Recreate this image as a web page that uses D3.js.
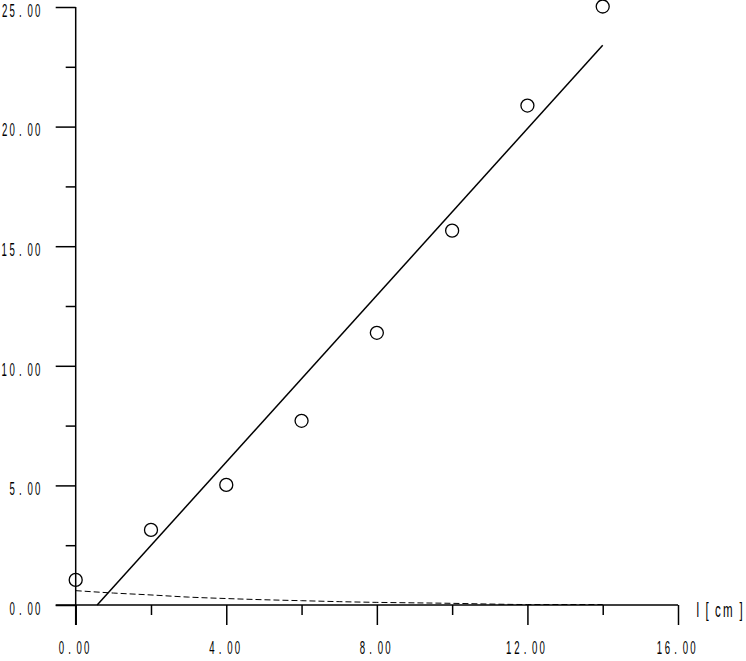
<!DOCTYPE html>
<html>
<head>
<meta charset="utf-8">
<script src="https://cdn.jsdelivr.net/npm/d3@7"></script>
<style>
  html, body { margin: 0; padding: 0; background: #fff; }
  svg { display: block; }
  text { font-family: "Liberation Sans", Arial, sans-serif; fill: #000; }
</style>
</head>
<body>
<svg id="chart" width="746" height="661"></svg>
<script>
// ---- data ----
const pointX = [0, 2, 4, 6, 8, 10, 12, 14];
const pointY = [1.05, 3.14, 5.02, 7.70, 11.38, 15.65, 20.88, 25.02];

const fitX = [0.57, 14];
const fitY = [0, 23.4];

const dashX = [0, 1, 2, 3, 4, 5, 6, 7, 8, 9, 10, 11, 12, 13, 14];
const dashY = [0.60, 0.50, 0.42, 0.33, 0.27, 0.22, 0.18, 0.14, 0.11, 0.09, 0.07, 0.04, 0.02, 0.02, 0.02];

const xMajorTicks = [0, 4, 8, 12, 16];
const xMinorTicks = [2, 6, 10, 14];
const xTickLabels = ["0.00", "4.00", "8.00", "12.00", "16.00"];

const yMajorTicks = [0, 5, 10, 15, 20, 25];
const yMinorTicks = [2.5, 7.5, 12.5, 17.5, 22.5];
const yTickLabels = ["0.00", "5.00", "10.00", "15.00", "20.00", "25.00"];

const xAxisTitle = "l [cm]";

// ---- drawing ----
const svg = d3.select("#chart");
const x = d3.scaleLinear().domain([0, 16]).range([75.7, 678]);
const y = d3.scaleLinear().domain([0, 25]).range([605, 7]);

const SX = 0.55, FS = 17.5, DIG = 7.5, DOT = 10.4, GLYPH = 4.6;
function drawLabel(str, ax, baseline, align) {
  const pos = [];
  let p = 0;
  for (const ch of str) {
    pos.push(ch === "." ? p + 2.0 : (ch === "1" ? p - 0.6 : p));
    p += (ch === "." ? DOT : DIG);
  }
  const width = p - DIG + GLYPH;
  const sx = align === "end" ? ax - width : ax - width / 2;
  const t = svg.append("text")
    .attr("transform", `translate(${sx},${baseline}) scale(${SX},1)`)
    .attr("font-size", FS);
  [...str].forEach((ch, i) => {
    t.append("tspan").attr("x", pos[i] / SX).attr("y", 0).text(ch);
  });
}

// axes lines
svg.append("line").attr("x1", x(0)).attr("x2", x(0)).attr("y1", y(25)).attr("y2", y(0) + 20)
  .attr("stroke", "#000").attr("stroke-width", 1.5);
svg.append("line").attr("x1", x(0) - 20).attr("x2", x(16)).attr("y1", y(0)).attr("y2", y(0))
  .attr("stroke", "#000").attr("stroke-width", 1.5);

// ticks (via d3 axis)
const yMaj = svg.append("g").attr("transform", `translate(${x(0)},0)`)
  .call(d3.axisLeft(y).tickValues(yMajorTicks).tickSize(20).tickSizeOuter(0).tickFormat(""));
const yMin = svg.append("g").attr("transform", `translate(${x(0)},0)`)
  .call(d3.axisLeft(y).tickValues(yMinorTicks).tickSize(10).tickSizeOuter(0).tickFormat(""));
const xMaj = svg.append("g").attr("transform", `translate(0,${y(0)})`)
  .call(d3.axisBottom(x).tickValues(xMajorTicks).tickSize(20).tickSizeOuter(0).tickFormat(""));
const xMin = svg.append("g").attr("transform", `translate(0,${y(0)})`)
  .call(d3.axisBottom(x).tickValues(xMinorTicks).tickSize(10).tickSizeOuter(0).tickFormat(""));
[yMaj, yMin, xMaj, xMin].forEach(g => {
  g.select(".domain").remove();
  g.selectAll(".tick line").attr("stroke", "#000").attr("stroke-width", 1.5);
});

// tick labels
yMajorTicks.forEach((v, i) => drawLabel(yTickLabels[i], 39.5, y(v) + 9.8, "end"));
xMajorTicks.forEach((v, i) => drawLabel(xTickLabels[i], x(v) - 2, 654, "middle"));

// x-axis title
{
  const offs = [0, 9, 18.5, 26.5, 43];
  const t = svg.append("text")
    .attr("transform", `translate(696.5,616.5) scale(0.55,1)`)
    .attr("font-size", 21);
  [...xAxisTitle.replace(/ /g, "")].forEach((ch, i) => {
    t.append("tspan").attr("x", offs[i] / 0.55).attr("y", 0).text(ch);
  });
}

// dashed curve
svg.append("path")
  .datum(dashX.map((d, i) => [d, dashY[i]]))
  .attr("d", d3.line().x(d => x(d[0])).y(d => y(d[1])).curve(d3.curveMonotoneX))
  .attr("fill", "none").attr("stroke", "#000").attr("stroke-width", 1).attr("stroke-dasharray", "6,3");

// fit line
svg.append("path")
  .datum(fitX.map((d, i) => [d, fitY[i]]))
  .attr("d", d3.line().x(d => x(d[0])).y(d => y(d[1])))
  .attr("fill", "none").attr("stroke", "#000").attr("stroke-width", 1.5);

// points
svg.selectAll("circle.pt")
  .data(pointX.map((d, i) => [d, pointY[i]]))
  .join("circle").attr("class", "pt")
  .attr("cx", d => x(d[0])).attr("cy", d => y(d[1])).attr("r", 6.5)
  .attr("fill", "none").attr("stroke", "#000").attr("stroke-width", 1.3);
</script>
</body>
</html>
